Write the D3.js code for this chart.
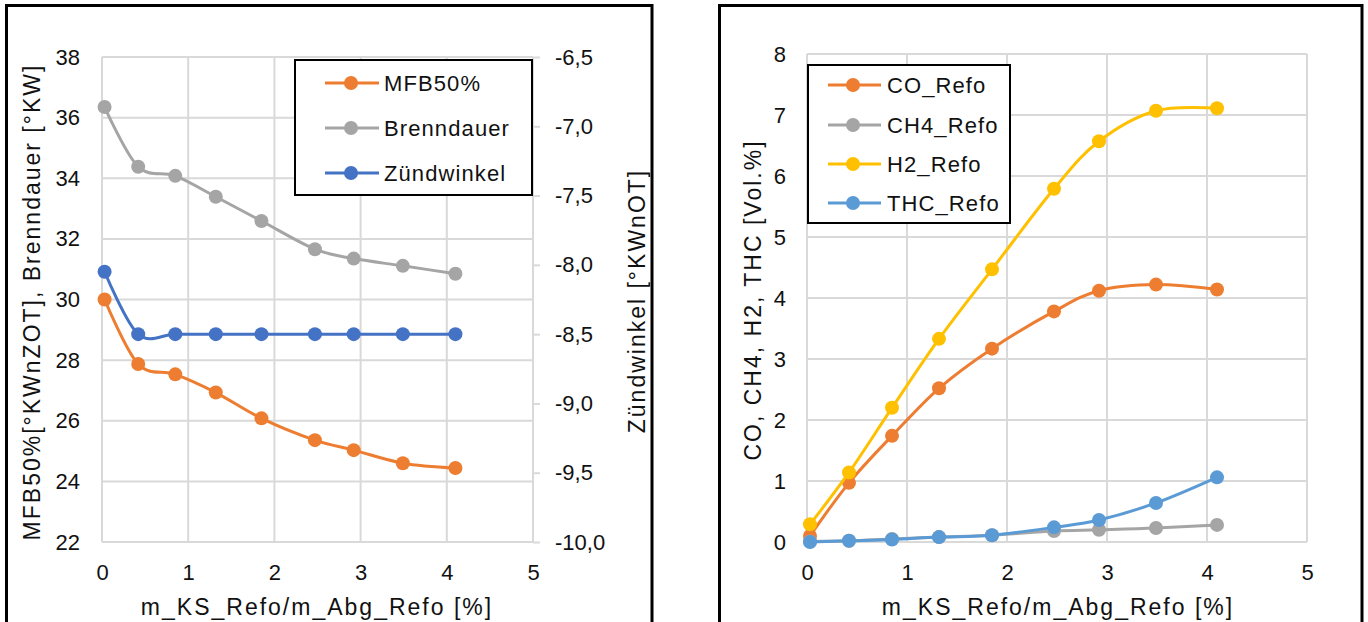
<!DOCTYPE html>
<html><head><meta charset="utf-8">
<script src="https://cdn.jsdelivr.net/npm/d3@7"></script>
<style>
body{margin:0;background:#fff;}
svg{display:block;font-family:"Liberation Sans",Arial,sans-serif;}
</style></head>
<body><svg id="c" width="1368" height="622"></svg>
<script>
// ---- data ----
const xRatio = [0.03, 0.42, 0.85, 1.32, 1.85, 2.47, 2.92, 3.49, 4.10];
const mfb50 = [30.0, 27.87, 27.53, 26.93, 26.08, 25.36, 25.03, 24.60, 24.44];
const brenndauer = [36.35, 34.38, 34.08, 33.39, 32.59, 31.66, 31.35, 31.11, 30.85];
const zuendwinkel = [-8.05, -8.5, -8.5, -8.5, -8.5, -8.5, -8.5, -8.5, -8.5];
const coRefo = [0.10, 0.97, 1.74, 2.52, 3.17, 3.78, 4.12, 4.22, 4.14];
const ch4Refo = [0.01, 0.02, 0.05, 0.08, 0.11, 0.18, 0.20, 0.23, 0.28];
const h2Refo = [0.29, 1.14, 2.20, 3.33, 4.47, 5.79, 6.57, 7.07, 7.11];
const thcRefo = [0.0, 0.02, 0.04, 0.08, 0.11, 0.24, 0.36, 0.64, 1.06];
const xTicks = [0, 1, 2, 3, 4, 5];
const leftTicks = [22, 24, 26, 28, 30, 32, 34, 36, 38];
const rightTicks = [-10, -9.5, -9, -8.5, -8, -7.5, -7, -6.5];
const gasTicks = [0, 1, 2, 3, 4, 5, 6, 7, 8];
const xTitle = "m_KS_Refo/m_Abg_Refo [%]";
const leftTitle = "MFB50%[°KWnZOT], Brenndauer [°KW]";
const rightTitle = "Zündwinkel [°KWnOT]";
const gasTitle = "CO, CH4, H2, THC [Vol.%]";
const seriesLeft = [
  {name: "MFB50%", values: mfb50, axis: "L", color: "#ED7D31"},
  {name: "Brenndauer", values: brenndauer, axis: "L", color: "#A5A5A5"},
  {name: "Zündwinkel", values: zuendwinkel, axis: "R", color: "#4472C4"}
];
const seriesRight = [
  {name: "CO_Refo", values: coRefo, color: "#ED7D31"},
  {name: "CH4_Refo", values: ch4Refo, color: "#A5A5A5"},
  {name: "H2_Refo", values: h2Refo, color: "#FFC000"},
  {name: "THC_Refo", values: thcRefo, color: "#5B9BD5"}
];

const svg = d3.select("#c");
const GRID = "#D9D9D9", TXT = "#111";
const curve = d3.curveCardinal.tension(0);

// panels
svg.append("rect").attr("x", 6.5).attr("y", 5.5).attr("width", 645.5).attr("height", 640)
  .attr("fill", "#fff").attr("stroke", "#000").attr("stroke-width", 3);
svg.append("rect").attr("x", 719.5).attr("y", 5.5).attr("width", 642.5).attr("height", 640)
  .attr("fill", "#fff").attr("stroke", "#000").attr("stroke-width", 3);

function styleAxis(g, fs) {
  g.select(".domain").remove();
  g.selectAll("text").attr("fill", TXT).style("font-size", fs + "px");
  g.selectAll("line").attr("stroke", GRID).attr("stroke-width", 2);
}

function grid(g, x, y, xt, yt) {
  g.append("g").selectAll("line").data(yt).join("line")
    .attr("x1", x.range()[0]).attr("x2", x.range()[1])
    .attr("y1", d => y(d)).attr("y2", d => y(d))
    .attr("stroke", GRID).attr("stroke-width", 2);
  g.append("g").selectAll("line").data(xt).join("line")
    .attr("y1", y.range()[0]).attr("y2", y.range()[1])
    .attr("x1", d => x(d)).attr("x2", d => x(d))
    .attr("stroke", GRID).attr("stroke-width", 2);
}

function drawSeries(g, x, y, s) {
  const pts = xRatio.map((xv, i) => [x(xv), y(s.values[i])]);
  g.append("path").attr("d", d3.line().curve(curve)(pts))
    .attr("fill", "none").attr("stroke", s.color).attr("stroke-width", 3)
    .attr("stroke-linejoin", "round");
  g.append("g").selectAll("circle").data(pts).join("circle")
    .attr("cx", d => d[0]).attr("cy", d => d[1]).attr("r", 7).attr("fill", s.color);
}

function legend(g, items, box, rows, lx1, lx2, mx, tx) {
  g.append("rect").attr("x", box[0]).attr("y", box[1]).attr("width", box[2] - box[0])
    .attr("height", box[3] - box[1]).attr("fill", "#fff").attr("stroke", "#000").attr("stroke-width", 2);
  items.forEach((s, i) => {
    const yy = rows[i];
    g.append("line").attr("x1", lx1).attr("x2", lx2).attr("y1", yy).attr("y2", yy)
      .attr("stroke", s.color).attr("stroke-width", 3);
    g.append("circle").attr("cx", mx).attr("cy", yy).attr("r", 7).attr("fill", s.color);
    g.append("text").attr("x", tx).attr("y", yy).attr("dy", "0.36em")
      .style("font-size", "22px").style("letter-spacing", "1.1px").attr("fill", TXT).text(s.name);
  });
}

function title(g, txt, x, y, rot) {
  g.append("text").attr("transform", `translate(${x},${y}) rotate(${rot})`)
    .attr("text-anchor", "middle").attr("dy", "0.36em")
    .style("font-size", "23px").style("letter-spacing", "2px").attr("fill", TXT).text(txt);
}

// ---------- left chart ----------
{
  const g = svg.append("g");
  const x = d3.scaleLinear().domain([0, 5]).range([102, 533]);
  const yL = d3.scaleLinear().domain([22, 38]).range([542, 57]);
  const yR = d3.scaleLinear().domain([-10, -6.5]).range([542, 57]);
  grid(g, x, yL, xTicks, leftTicks);
  g.append("g").attr("transform", "translate(102,0)")
    .call(d3.axisLeft(yL).tickValues(leftTicks).tickSize(0).tickPadding(22).tickFormat(d3.format("d")))
    .call(a => styleAxis(a, 22));
  g.append("g").attr("transform", "translate(533,0)")
    .call(d3.axisRight(yR).tickValues(rightTicks).tickSize(7).tickPadding(15)
      .tickFormat(v => v.toFixed(1).replace(".", ",")))
    .call(a => styleAxis(a, 22));
  g.append("g").attr("transform", "translate(0,542)")
    .call(d3.axisBottom(x).tickValues(xTicks).tickSize(0).tickPadding(22).tickFormat(d3.format("d")))
    .call(a => styleAxis(a, 22));
  seriesLeft.forEach(s => drawSeries(g, x, s.axis === "L" ? yL : yR, s));
  legend(g, seriesLeft, [295, 60, 532, 195], [83, 128, 173], 325, 379, 351, 384);
  title(g, xTitle, 317, 607, 0);
  title(g, leftTitle, 32, 302, -90);
  title(g, rightTitle, 637, 301, -90);
}

// ---------- right chart ----------
{
  const g = svg.append("g");
  const x = d3.scaleLinear().domain([0, 5]).range([807, 1307]);
  const y = d3.scaleLinear().domain([0, 8]).range([542, 54]);
  grid(g, x, y, xTicks, gasTicks);
  g.append("g").attr("transform", "translate(807,0)")
    .call(d3.axisLeft(y).tickValues(gasTicks).tickSize(0).tickPadding(21).tickFormat(d3.format("d")))
    .call(a => styleAxis(a, 22));
  g.append("g").attr("transform", "translate(0,542)")
    .call(d3.axisBottom(x).tickValues(xTicks).tickSize(0).tickPadding(22).tickFormat(d3.format("d")))
    .call(a => styleAxis(a, 22));
  seriesRight.forEach(s => drawSeries(g, x, y, s));
  legend(g, seriesRight, [808, 65, 1010, 223], [85, 125, 164, 203], 828, 881, 853, 887);
  title(g, xTitle, 1058, 607, 0);
  title(g, gasTitle, 753, 300, -90);
}
</script></body></html>
